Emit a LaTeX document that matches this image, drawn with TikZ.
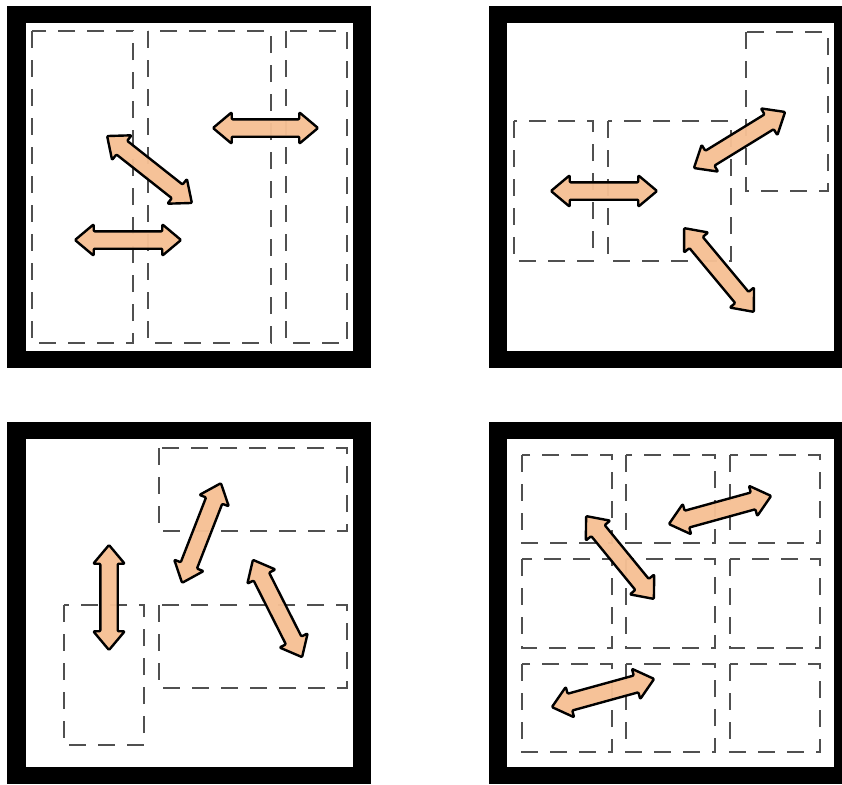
\documentclass[tikz,border=0pt]{standalone}
\usetikzlibrary{shapes.arrows}
\definecolor{peach}{RGB}{246,192,148}
\definecolor{dashgray}{RGB}{80,80,80}
\tikzset{
  frameout/.style={fill=black},
  framein/.style={fill=white},
  zone/.style={draw=dashgray, line width=1.8pt, dash pattern=on 17pt off 12pt},
  dbl/.style={double arrow, draw=black, fill=peach, fill opacity=0.96, line width=2.4pt,
    minimum width=28pt, double arrow head extend=7pt, double arrow tip angle=80,
    inner xsep=0pt, inner ysep=7.5pt, line join=round, rounded corners=1pt}
}
\begin{document}
\begin{tikzpicture}[x=1pt,y=-1pt]
\useasboundingbox (0,0) rectangle (842,784);
% frames
\fill[frameout] (7,6) rectangle (371,368);
\fill[framein] (26,23) rectangle (353,351);
\fill[frameout] (489,6) rectangle (842,368);
\fill[framein] (507,23) rectangle (834,351);
\fill[frameout] (7,422) rectangle (371,784);
\fill[framein] (26,439) rectangle (353,767);
\fill[frameout] (489,422) rectangle (842,784);
\fill[framein] (507,439) rectangle (834,767);
% panel 1 zones
\draw[zone] (32,31) rectangle (133,343);
\draw[zone] (148,31) rectangle (271,343);
\draw[zone] (286,31) rectangle (347,343);
% panel 2 zones
\draw[zone] (514,121) rectangle (593,261);
\draw[zone] (608,121) rectangle (731,261);
\draw[zone] (746,32) rectangle (828,191);
% panel 3 zones
\draw[zone] (159,448) rectangle (347,531);
\draw[zone] (159,605) rectangle (347,688);
\draw[zone] (64,605) rectangle (144,745);
% panel 4 zones
\foreach \xa/\xb in {522/612,626/715,730/820}
  \foreach \ya/\yb in {455/543,559/648,664/752}
    \draw[zone] (\xa,\ya) rectangle (\xb,\yb);
% panel 1 arrows
\node[dbl, minimum height=105pt] (a11) at (265.5,128) {};
\node[dbl, minimum height=108pt, rotate=-38.3] (a12) at (149.5,169.5) {};
\node[dbl, minimum height=106pt] (a13) at (128,240) {};
% panel 2 arrows
\node[dbl, minimum height=106pt] (a21) at (604,191) {};
\node[dbl, minimum height=107pt, rotate=31.6] (a22) at (739.5,140) {};
\node[dbl, minimum height=109pt, rotate=-50.2] (a23) at (719,270) {};
% panel 3 arrows
\node[dbl, minimum height=105pt, rotate=90] (a31) at (109,597.5) {};
\node[dbl, minimum height=107pt, rotate=68.7] (a32) at (201.5,533) {};
\node[dbl, minimum height=109pt, rotate=-63.2] (a33) at (277.5,608.5) {};
% panel 4 arrows
\node[dbl, minimum height=106pt, rotate=15.4] (a41) at (720,510) {};
\node[dbl, minimum height=107pt, rotate=-50.7] (a42) at (620,557.5) {};
\node[dbl, minimum height=106pt, rotate=15.4] (a43) at (603,693) {};
\end{tikzpicture}
\end{document}
